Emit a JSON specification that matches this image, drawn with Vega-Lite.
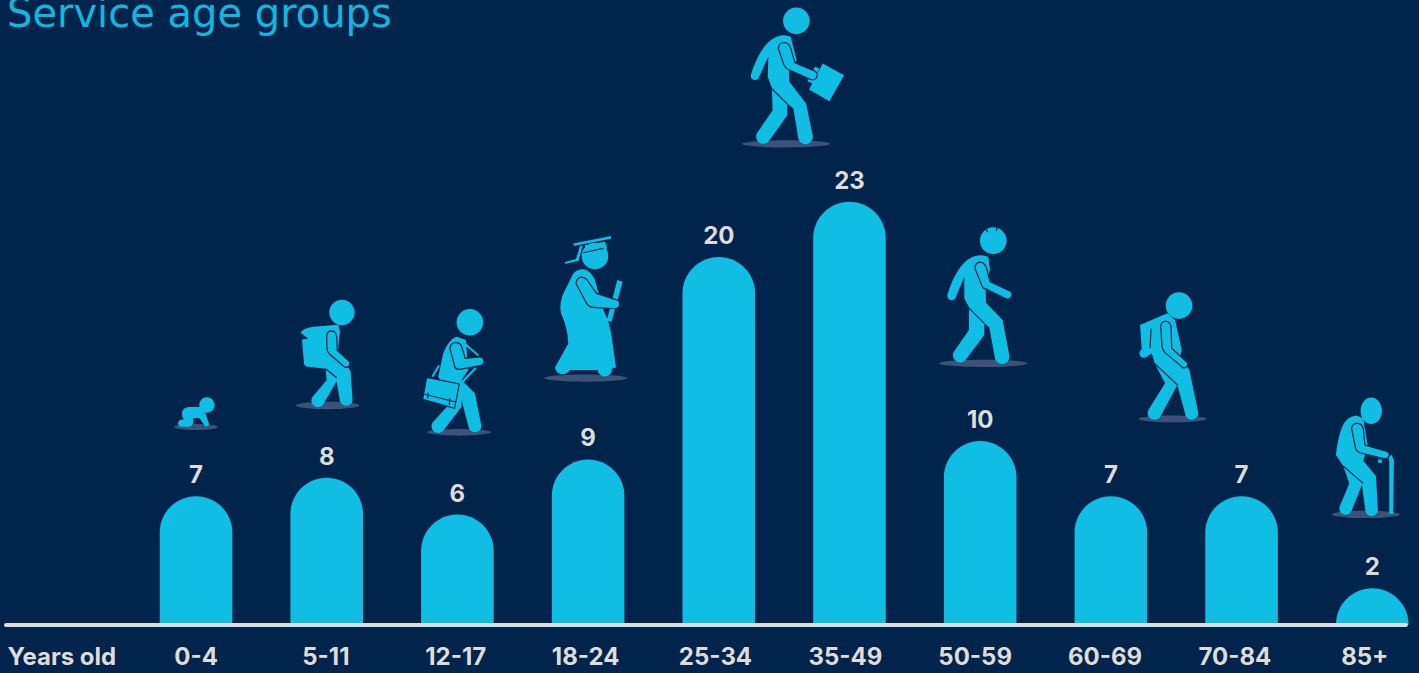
{"$schema":"https://vega.github.io/schema/vega-lite/v6.json","width":1419,"height":597,"autosize":"none","padding":{"left":0,"right":0,"top":28,"bottom":48},"background":"#00244b","title":{"text":"Service age groups","anchor":"start","frame":"group","offset":0,"dx":7,"dy":59,"baseline":"alphabetic","font":"DejaVu Sans","fontSize":40,"fontWeight":400,"color":"#10b8df"},"config":{"view":{"stroke":null}},"datasets":{"groups":[{"age":"0-4","count":7},{"age":"5-11","count":8},{"age":"12-17","count":6},{"age":"18-24","count":9},{"age":"25-34","count":20},{"age":"35-49","count":23},{"age":"50-59","count":10},{"age":"60-69","count":7},{"age":"70-84","count":7},{"age":"85+","count":2}],"figures":[{"figure":"baby","slot":1.5,"level":10.76},{"figure":"backpack","slot":2.508,"level":11.93},{"figure":"satchel","slot":3.513,"level":10.47},{"figure":"graduate","slot":4.483,"level":13.42},{"figure":"worker","slot":6.017,"level":26.15},{"figure":"walker","slot":7.527,"level":14.22},{"figure":"stooped","slot":8.977,"level":11.2},{"figure":"cane","slot":10.456,"level":6.01}],"baseline":[{"start":0.046,"end":10.762,"zero":0}]},"layer":[{"data":{"name":"groups"},"mark":{"type":"bar","width":72.6,"clip":true,"cornerRadiusTopLeft":36.3,"cornerRadiusTopRight":36.3,"color":"#10bde3"},"encoding":{"x":{"field":"age","type":"nominal","sort":null,"title":null,"scale":{"domain":["Years old","0-4","5-11","12-17","18-24","25-34","35-49","50-59","60-69","70-84","85+"],"range":[0,1437.6],"paddingInner":0,"paddingOuter":0},"axis":{"title":null,"domain":false,"ticks":false,"labelAngle":0,"labelBaseline":"middle","labelPadding":32,"labelFont":"Inter","labelFontWeight":700,"labelFontSize":24,"labelColor":"#dcdcdc","labelOverlap":false,"labelFlush":false,"grid":false,"labelOffset":{"expr":"datum.index==0?-3.5:-7.5*(datum.index*10-1)/9"}}},"y":{"field":"count","type":"quantitative","scale":{"domain":[0,32.446],"nice":false},"axis":null},"y2":{"datum":-4}}},{"data":{"name":"groups"},"mark":{"type":"text","font":"Inter","fontWeight":700,"fontSize":24,"color":"#dcdcdc","baseline":"middle","dy":-20},"encoding":{"x":{"field":"age","type":"nominal","sort":null,"scale":{"domain":["Years old","0-4","5-11","12-17","18-24","25-34","35-49","50-59","60-69","70-84","85+"],"range":[0,1437.6],"paddingInner":0,"paddingOuter":0},"axis":null},"y":{"field":"count","type":"quantitative","axis":null},"text":{"field":"count","type":"quantitative"}}},{"data":{"name":"baseline"},"mark":{"type":"rule","color":"#dcdcdc","strokeWidth":4,"strokeCap":"round"},"encoding":{"x":{"field":"start","type":"quantitative","scale":{"domain":[0,11],"range":[0,1437],"nice":false,"zero":false},"axis":null},"x2":{"field":"end"},"y":{"field":"zero","type":"quantitative","axis":null}}},{"data":{"name":"figures"},"mark":{"type":"point","filled":true,"size":0.4444,"fill":"#3c5278","stroke":null,"opacity":1},"encoding":{"x":{"field":"slot","type":"quantitative","scale":{"domain":[0,11],"range":[0,1437],"nice":false,"zero":false},"axis":null},"y":{"field":"level","type":"quantitative","axis":null},"shape":{"field":"figure","type":"nominal","legend":null,"scale":{"domain":["baby","backpack","satchel","graduate","worker","walker","stooped","cane"],"range":["M-66 0A66 9 0 1 1 66 0A66 9 0 1 1 -66 0Z","M-95 0A95 11 0 1 1 95 0A95 11 0 1 1 -95 0Z","M-96 0A96 10 0 1 1 96 0A96 10 0 1 1 -96 0Z","M-125 0A125 11 0 1 1 125 0A125 11 0 1 1 -125 0Z","M-133 0A133 11 0 1 1 133 0A133 11 0 1 1 -133 0Z","M-133 0A133 11 0 1 1 133 0A133 11 0 1 1 -133 0Z","M-102 0A102 10 0 1 1 102 0A102 10 0 1 1 -102 0Z","M-102 0A102 11 0 1 1 102 0A102 11 0 1 1 -102 0Z"]}}}},{"data":{"name":"figures"},"mark":{"type":"point","filled":true,"size":0.4444,"fill":"#10bde3","stroke":null,"opacity":1},"encoding":{"x":{"field":"slot","type":"quantitative","scale":{"domain":[0,11],"range":[0,1437],"nice":false,"zero":false},"axis":null},"y":{"field":"level","type":"quantitative","axis":null},"shape":{"field":"figure","type":"nominal","legend":null,"scale":{"domain":["baby","backpack","satchel","graduate","worker","walker","stooped","cane"],"range":["M10 -66A23 23 0 1 1 56 -66A23 23 0 1 1 10 -66ZM-42 -42Q-40 -59 -20 -60L14 -60L27 -44L40 -8Q37 0 28 -2L10 -27L-8 -27L-8 -12Q-12 -1 -23 -1L-43 -1Q-54 -2 -54 -12Q-53 -21 -42 -22L-36 -24Q-43 -30 -42 -42Z","M5 -279A38 38 0 1 1 81 -279A38 38 0 1 1 5 -279ZM-81 -218Q-75 -231 -43 -236L32 -242L37 -223L31 -163L69 -103L75 -13A20 20 0 0 1 37 -13L27 -73L-13 -3A19 19 0 0 1 -45 -26L-3 -76L-6 -110L-58 -116Q-68 -116 -71 -126L-77 -198L-58 -200Z","M-7 -330A40 40 0 1 1 73 -330A40 40 0 1 1 -7 -330ZM-47 -237Q-29 -282 -7 -287L21 -277L28 -187L8 -157L48 -117L68 -17A20 20 0 0 1 30 -12L8 -97L8 -77L-47 -5A20 20 0 0 1 -77 -32L-22 -92L-62 -167ZM21 -267L61 -232L57 -228L18 -261ZM48 -195L53 -191L11 -147L6 -151ZM-62 -202L-57 -199L-77 -165L-82 -169Z","M-12 -366A40 40 0 1 1 68 -366A40 40 0 1 1 -12 -366ZM-37 -404L76 -426L76 -418L-35 -396ZM-2 -399L58 -409L65 -389L-2 -374ZM-17 -396L-9 -398L-21 -352L-61 -342L-62 -348L-29 -357ZM-37 -314Q-22 -329 -2 -326Q18 -319 28 -294L53 -204Q73 -164 78 -124L91 -32L79 -29A21 21 0 0 1 36 -24L-47 -24A24 24 0 0 1 -92 -32L-52 -104Q-55 -154 -72 -189Q-82 -214 -67 -254ZM95 -294L111 -289L78 -169L63 -172Z","M-9 -369A40 40 0 1 1 71 -369A40 40 0 1 1 -9 -369ZM-106 -206A13 13 0 0 0 -80 -203L-53 -261L-55 -201L-43 -169L-40 -101L-88 -31A22 22 0 0 0 -53 -6L4 -86L4 -121L22 -106L37 -16A22 22 0 0 0 80 -26L60 -121L10 -186L9 -221L32 -251L14 -321Q-8 -331 -33 -319Q-78 -296 -106 -206ZM110 -241L174 -206L130 -128L69 -163ZM87 -231L100 -226L80 -181L64 -188Z","M-10 -368A40 40 0 1 1 70 -368A40 40 0 1 1 -10 -368ZM-108 -205A13 13 0 0 0 -82 -200L-57 -260L-57 -195L-43 -168L-43 -100L-90 -32A22 22 0 0 0 -55 -8L3 -85L3 -120L18 -108L35 -15A22 22 0 0 0 78 -25L58 -130L8 -182L7 -225L20 -280L15 -320Q-10 -330 -35 -318Q-80 -295 -108 -205Z","M-21 -340A40 40 0 1 1 59 -340A40 40 0 1 1 -21 -340ZM-98 -282L-16 -317L7 -297L27 -207L22 -187L50 -147L77 -17A20 20 0 0 1 39 -9L14 -102L-36 -9A20 20 0 0 1 -73 -27L-23 -107L-53 -165L-63 -197L-80 -185A13 13 0 0 1 -93 -209Z","M-16 -311A32 40 0 1 1 48 -311A32 40 0 1 1 -16 -311ZM-73 -258Q-63 -293 -28 -297L-8 -288L5 -208L-8 -161L30 -115L36 -13A19 19 0 0 1 -1 -8L-12 -88L-43 -11A19 19 0 0 1 -79 -23L-50 -93L-68 -145L-90 -178Q-86 -223 -73 -258ZM67 -173L77 -178L84 -163L82 -1L70 -1L70 -158ZM36 -165L48 -165L48 -155L36 -155Z"]}}}},{"data":{"name":"figures"},"mark":{"type":"point","filled":true,"size":0.4444,"fill":"#10bde3","stroke":"#00244b","strokeWidth":1.2,"opacity":1},"encoding":{"x":{"field":"slot","type":"quantitative","scale":{"domain":[0,11],"range":[0,1437],"nice":false,"zero":false},"axis":null},"y":{"field":"level","type":"quantitative","axis":null},"shape":{"field":"figure","type":"nominal","legend":null,"scale":{"domain":["baby","backpack","satchel","graduate","worker","walker","stooped","cane"],"range":["M0 0L0 0","M-3 -208Q-1 -224 12 -224Q25 -223 27 -208L29 -165L63 -134A11 11 0 0 1 49 -117L7 -153Q-1 -160 -2 -170ZM-6 -110L27 -83","M-97 -165L1 -145L-13 -72L-109 -99ZM-107 -115L-9 -91M-92 -119L-94 -102M-27 -102L-29 -82M-27 -252Q-25 -269 -9 -269Q5 -269 9 -255L19 -222L61 -226A13 13 0 0 1 63 -200L3 -189Q-9 -187 -13 -199Z","M-29 -284Q-27 -302 -12 -303Q1 -302 8 -289L33 -254L88 -236A14 14 0 0 1 88 -208L23 -212Q11 -212 3 -224ZM-7 -376L53 -389","M-23 -286Q-22 -304 -6 -304Q10 -303 14 -286L27 -243L85 -219A13 13 0 0 1 74 -193L7 -223Q-3 -227 -6 -236ZM-46 -169L4 -119","M-25 -285Q-24 -303 -10 -304Q5 -303 10 -285L20 -245L78 -218A13 13 0 0 1 68 -194L5 -225Q0 -222 -5 -235ZM-45 -168L3 -120M10 -402L12 -394M40 -408L40 -398","M-36 -277Q-35 -293 -21 -293Q-8 -292 -5 -277L-3 -212L44 -169A11 11 0 0 1 30 -154L-23 -199Q-31 -207 -32 -217ZM-53 -165L14 -102M-65 -272L-68 -212","M-43 -258Q-41 -273 -26 -273Q-13 -273 -8 -258L-3 -208L60 -190A11 11 0 0 1 57 -167L-18 -185Q-28 -188 -31 -198ZM-68 -145L-8 -93"]}}}}],"resolve":{"scale":{"x":"independent","shape":"independent"}}}
